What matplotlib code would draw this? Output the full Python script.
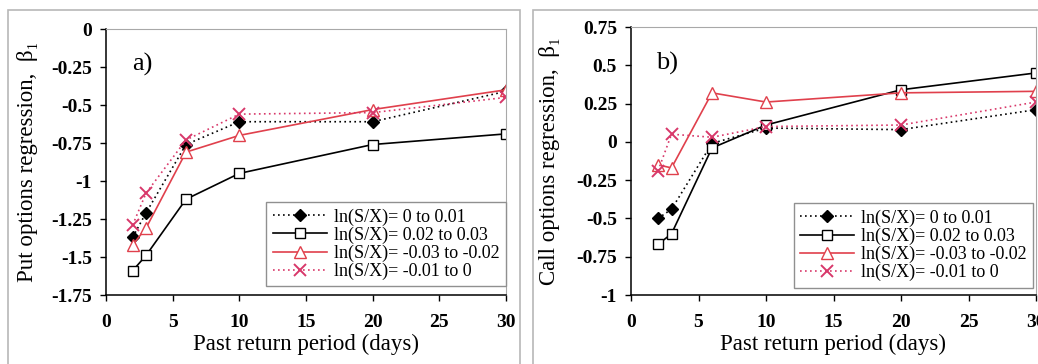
import matplotlib
matplotlib.use("Agg")
import matplotlib.pyplot as plt
from matplotlib.patches import Rectangle

plt.rcParams["font.family"] = ["Liberation Serif", "DejaVu Serif"]

# ===================== 数据 =====================
days = [2, 3, 6, 10, 20, 30]
labels = ["ln(S/X)= 0 to 0.01", "ln(S/X)= 0.02 to 0.03",
          "ln(S/X)= -0.03 to -0.02", "ln(S/X)= -0.01 to 0"]

put_0_001 = [-1.37, -1.21, -0.76, -0.61, -0.61, -0.41]
put_002_003 = [-1.59, -1.49, -1.12, -0.95, -0.76, -0.69]
put_m003_m002 = [-1.42, -1.31, -0.81, -0.70, -0.53, -0.40]
put_m001_0 = [-1.29, -1.08, -0.73, -0.56, -0.55, -0.45]

call_0_001 = [-0.50, -0.44, -0.01, 0.09, 0.08, 0.21]
call_002_003 = [-0.67, -0.60, -0.04, 0.11, 0.34, 0.45]
call_m003_m002 = [-0.15, -0.17, 0.32, 0.26, 0.32, 0.33]
call_m001_0 = [-0.19, 0.05, 0.03, 0.10, 0.11, 0.26]

put_yticks = [0, -0.25, -0.5, -0.75, -1, -1.25, -1.5, -1.75]
call_yticks = [0.75, 0.5, 0.25, 0, -0.25, -0.5, -0.75, -1]
xticks = [0, 5, 10, 15, 20, 25, 30]
# ==================================================

RED = "#e0404c"
XRED = "#d8386a"
styles = [
    dict(color="black", ls=(0, (1, 2)), lw=1.2, marker="D", ms=6, mfc="black", mec="black"),
    dict(color="black", ls="-", lw=1.2, marker="s", ms=7, mfc="white", mec="black"),
    dict(color=RED, ls="-", lw=1.2, marker="^", ms=8, mfc="white", mec=RED),
    dict(color=XRED, ls=(0, (1, 2)), lw=1.2, marker="x", ms=8, mew=1.4, mec=XRED),
]

W, H = 1038, 364
fig = plt.figure(figsize=(W / 100, H / 100), dpi=100)

# 面板外框
fig.add_artist(Rectangle((8 / W, -0.05), 512 / W, 1.05 - 10 / H, transform=fig.transFigure,
                         fill=False, edgecolor="#b8b8b8", lw=1.2))
fig.add_artist(Rectangle((533 / W, -0.05), 600 / W, 1.05 - 10 / H, transform=fig.transFigure,
                         fill=False, edgecolor="#b8b8b8", lw=1.2))


def make_panel(rect, series, yticks, ylabel, tag, leg_anchor, ylab_x):
    ax = fig.add_axes(rect)
    for vals, st, lab in zip(series, styles, labels):
        ax.plot(days, vals, label=lab, **st)
    ax.set_xlim(0, 30)
    ax.set_ylim(min(yticks), max(yticks))
    ax.set_xticks(xticks)
    ax.set_yticks(yticks)
    ax.set_yticklabels([f"{t:g}" for t in yticks])
    ax.tick_params(axis="both", direction="out", length=4, width=1, labelsize=14)
    ax.tick_params(axis="x", pad=10)
    ax.tick_params(axis="y", pad=6)
    for t in ax.get_xticklabels() + ax.get_yticklabels():
        t.set_fontweight("bold")
    for s in ["top", "right"]:
        ax.spines[s].set_color("#a8a8a8")
    for s in ["left", "bottom"]:
        ax.spines[s].set_color("black")
        ax.spines[s].set_linewidth(1.1)
    ax.set_xlabel("Past return period (days)", fontsize=16.5)
    ax.xaxis.set_label_coords(0.5, -0.145)
    ax.set_ylabel(ylabel, fontsize=16.5)
    ax.yaxis.set_label_coords(ylab_x, 0.5)
    ax.text(0.09, 0.865, tag, transform=ax.transAxes, fontsize=19, ha="center", va="center")
    leg = ax.legend(loc="upper right", bbox_to_anchor=leg_anchor, borderaxespad=0,
                    fontsize=13, frameon=True, fancybox=False, framealpha=1,
                    edgecolor="#909090", handlelength=3.0, labelspacing=0.05,
                    borderpad=0.35, handletextpad=0.4)
    leg.get_frame().set_linewidth(1.0)
    return ax


make_panel([106 / W, 1 - 295 / H, 400 / W, 266 / H],
           [put_0_001, put_002_003, put_m003_m002, put_m001_0],
           put_yticks, "Put options regression,  β₁", "a)", (1.0, 0.35), -0.17)
make_panel([631 / W, 1 - 295 / H, 405 / W, 268 / H],
           [call_0_001, call_002_003, call_m003_m002, call_m001_0],
           call_yticks, "Call options regression,  β₁", "b)", (0.993, 0.343), -0.175)

fig.savefig("out.png", dpi=100)
